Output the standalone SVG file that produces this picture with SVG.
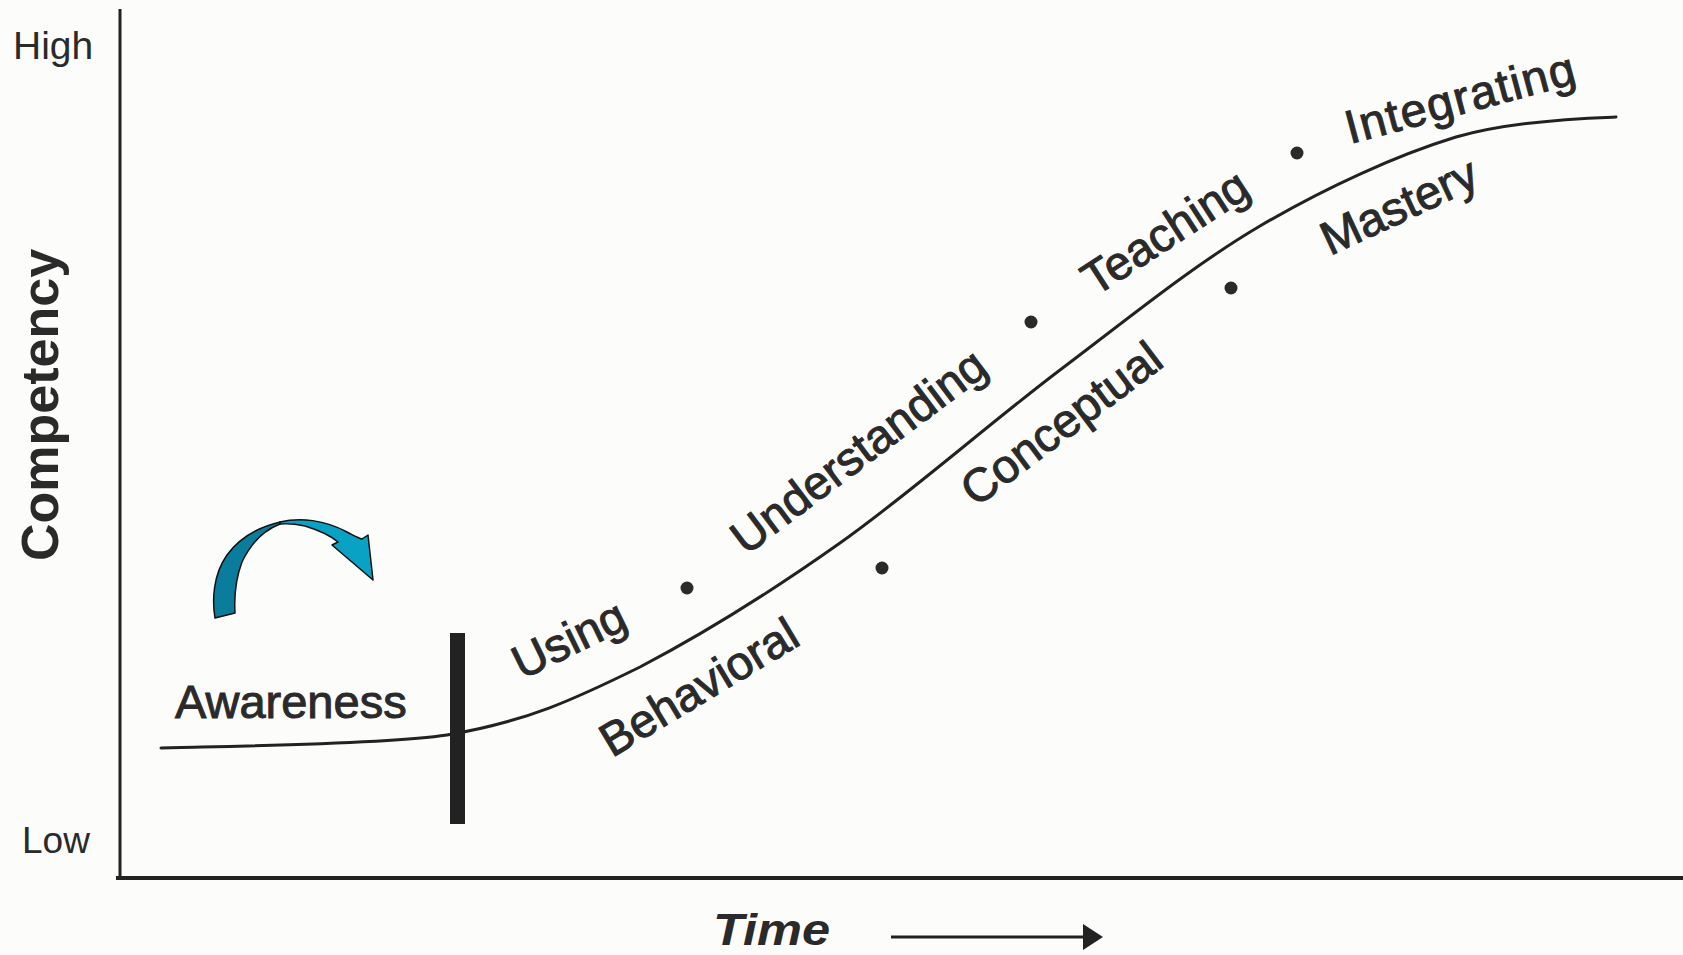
<svg xmlns="http://www.w3.org/2000/svg" width="1683" height="955" viewBox="0 0 1683 955">
<style>
.lbl{font-family:"Liberation Sans",Arial,sans-serif;font-size:47px;fill:#2a2a2a;stroke:#2a2a2a;stroke-width:1}
.ax{font-family:"Liberation Sans",Arial,sans-serif;fill:#2a2a2a}
.ttl{font-family:"Liberation Sans",Arial,sans-serif;font-weight:bold;fill:#2a2a2a}
.axis{stroke:#222;fill:none}
.dot{fill:#2a2a2a}
</style>
<rect x="0" y="0" width="1683" height="955" fill="#fcfcfb"/>
<g id="axes">
<line class="axis" x1="120" y1="9" x2="120" y2="880" stroke-width="3"/>
<line class="axis" x1="116" y1="878" x2="1683" y2="878" stroke-width="4"/>
</g>
<g id="axis-labels">
<text class="ax" font-size="39" x="13" y="59">High</text>
<text class="ax" font-size="37" x="22" y="853">Low</text>
<text class="ttl" font-size="52" transform="translate(58,561) rotate(-90)">Competency</text>
</g>
<g id="time">
<text class="ttl" font-style="italic" font-size="44" x="713" y="945" textLength="117" lengthAdjust="spacingAndGlyphs">Time</text>
<line x1="891" y1="937" x2="1086" y2="937" stroke="#222" stroke-width="3"/>
<path d="M1083,924 L1103,937 L1083,950 Z" fill="#222"/>
</g>
<g id="connectors">
<path id="s-curve" fill="none" stroke="#222" stroke-width="3" stroke-linecap="round" d="M161,748 C208,746.5 380,745 447,735 C527,721.5 574.5,699.3 640,667 C705.5,632.7 770,592.5 840,543 C910,493.5 990,422.8 1060,370 C1130,317.2 1194,264.8 1260,226 C1326,187.2 1396.7,155.2 1456,137 C1515.3,120 1589,118 1616,117"/>
</g>
<g id="barrier">
<rect x="450" y="633" width="15" height="191" fill="#222"/>
</g>
<g id="curved-arrow" stroke="#111" stroke-width="1.5" stroke-linejoin="round">
<path fill="#0a7c9c" d="M215,618 C212,600 213,575 227,555 C238,540 255,528 280,522 L280,524 C262,531 250,545 242,562 C236,578 234,596 235,613 Z"/>
<path fill="#09a2c4" d="M280,522 C300,517 325,520 347,532 C353,535 358,538 362,539 L368,535 L373,580 L332,545 L338,542 C330,535 318,530 305,526 C296,524 288,523 280,524 Z"/>
</g>
<g id="label-awareness"><text class="lbl" x="175" y="718">Awareness</text></g>
<g id="label-using"><text class="lbl" transform="translate(522,680) rotate(-26)">Using</text></g>
<g id="label-behavioral"><text class="lbl" transform="translate(612,758) rotate(-31)">Behavioral</text></g>
<g id="label-understanding"><text class="lbl" transform="translate(746,556) rotate(-37)">Understanding</text></g>
<g id="label-conceptual"><text class="lbl" transform="translate(976,508) rotate(-37)">Conceptual</text></g>
<g id="label-teaching"><text class="lbl" transform="translate(1095,297) rotate(-33)">Teaching</text></g>
<g id="label-mastery"><text class="lbl" transform="translate(1330,256) rotate(-25)">Mastery</text></g>
<g id="label-integrating"><text class="lbl" transform="translate(1350,144) rotate(-15)" textLength="236">Integrating</text></g>
<g id="dots">
<circle class="dot" cx="687" cy="588" r="6.5"/>
<circle class="dot" cx="882" cy="568" r="6.5"/>
<circle class="dot" cx="1031" cy="322" r="6.5"/>
<circle class="dot" cx="1231" cy="288" r="6.5"/>
<circle class="dot" cx="1297" cy="153" r="6.5"/>
</g>
</svg>
